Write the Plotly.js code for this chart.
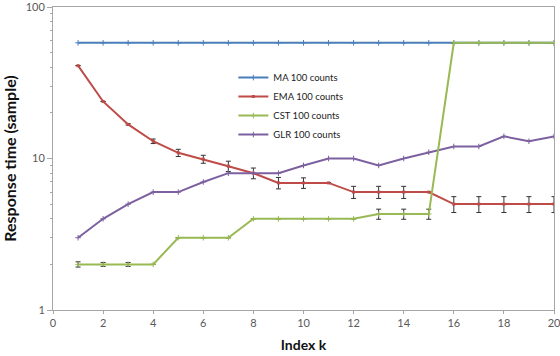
<!DOCTYPE html>
<html><head><meta charset="utf-8">
<script src="https://cdn.plot.ly/plotly-3.0.1.min.js"></script>
<style>body{margin:0;padding:0;background:#fff}#chart{width:560px;height:356px}</style>
</head><body><div id="chart"></div>
<script>
const kIndex = [1,2,3,4,5,6,7,8,9,10,11,12,13,14,15,16,17,18,19,20];
const maValues  = [58,58,58,58,58,58,58,58,58,58,58,58,58,58,58,58,58,58,58,58];
const emaValues = [41,23.8,16.8,13,10.9,9.9,8.9,8,6.9,6.9,6.9,6,6,6,6,5,5,5,5,5];
const emaErrors = [0,0,0.2,0.45,0.6,0.6,0.7,0.65,0.6,0.55,0,0.55,0.55,0.55,0,0.6,0.6,0.6,0.6,0.6];
const cstValues = [2,2,2,2,3,3,3,4,4,4,4,4,4.3,4.3,4.3,58,58,58,58,58];
const cstErrors = [0.08,0.06,0.06,0,0,0,0,0,0,0,0,0,0.33,0.33,0.33,0,0,0,0,0];
const glrValues = [3,4,5,6,6,7,8,8,8,9,10,10,9,10,11,12,12,14,13,14];
const seriesNames = ['MA 100 counts','EMA 100 counts','CST 100 counts','GLR 100 counts'];
const seriesColors = ['#4a7ebb','#be4b48','#98b954','#7d60a0'];
const majorTicks = [1,10,100];
const majorLabels = ['1','10','100'];
const minorTicks = [2,3,4,5,6,7,8,9,20,30,40,50,60,70,80,90];

const errStyle = {type:'data', visible:true, color:'#333', thickness:1, width:2.5};
const mk = (c) => ({symbol:'cross-thin-open', size:4, color:c, line:{color:c, width:1}});

const traces = [
  {x:kIndex, y:maValues, name:seriesNames[0], mode:'lines+markers',
   line:{color:seriesColors[0], width:2}, marker:mk(seriesColors[0])},
  {x:kIndex, y:emaValues, name:seriesNames[1], mode:'lines+markers',
   line:{color:seriesColors[1], width:2}, marker:{symbol:'square', size:3, color:seriesColors[1]},
   error_y:Object.assign({array:emaErrors}, errStyle)},
  {x:kIndex, y:glrValues, name:seriesNames[3], mode:'lines+markers',
   line:{color:seriesColors[3], width:2}, marker:mk(seriesColors[3]), showlegend:false},
  {x:kIndex, y:cstValues, name:seriesNames[2], mode:'lines+markers',
   line:{color:seriesColors[2], width:2}, marker:mk(seriesColors[2]),
   error_y:Object.assign({array:cstErrors}, errStyle)},
  {x:[null], y:[null], name:seriesNames[3], mode:'lines+markers',
   line:{color:seriesColors[3], width:2}, marker:mk(seriesColors[3])},
  {x:[null], y:[null], yaxis:'y2', showlegend:false, hoverinfo:'skip'}
];

const fam = 'Lato, "Open Sans", sans-serif';
const tickFont = {family:fam, size:11, color:'#595959'};
const layout = {
  width:560, height:356,
  margin:{l:53, r:6, t:7, b:46},
  paper_bgcolor:'#fff', plot_bgcolor:'#fff',
  showlegend:true,
  legend:{x:0.36, y:0.815, xanchor:'left', yanchor:'top', bgcolor:'rgba(0,0,0,0)',
          font:{family:fam, size:9.5, color:'#222'},
          tracegroupgap:0, itemwidth:30, traceorder:'normal'},
  xaxis:{range:[0,20], dtick:2, tick0:0, showgrid:false, zeroline:false,
         showline:true, linecolor:'#a6a6a6', linewidth:1, mirror:true,
         ticks:'outside', ticklen:3, tickcolor:'#a6a6a6', tickfont:tickFont, ticklabeloverflow:'allow',
         title:{text:'<b>Index k</b>', font:{family:fam, size:14, color:'#111'}, standoff:11}},
  yaxis:{type:'log', range:[0,2], tickvals:majorTicks, ticktext:majorLabels,
         showgrid:false, zeroline:false, showline:true, linecolor:'#a6a6a6', linewidth:1, mirror:true,
         ticks:'outside', ticklen:5, tickcolor:'#a6a6a6', tickfont:tickFont, ticklabeloverflow:'allow',
         title:{text:'<b>Response time (sample)</b>', font:{family:fam, size:16, color:'#111'}, standoff:7}},
  yaxis2:{type:'log', range:[0,2], overlaying:'y', side:'left', tickvals:minorTicks,
          ticktext:minorTicks.map(()=>''), showgrid:false, zeroline:false, showline:false,
          ticks:'outside', ticklen:2, tickcolor:'#a6a6a6'}
};
Plotly.newPlot('chart', traces, layout, {displayModeBar:false, staticPlot:true});
</script></body></html>
